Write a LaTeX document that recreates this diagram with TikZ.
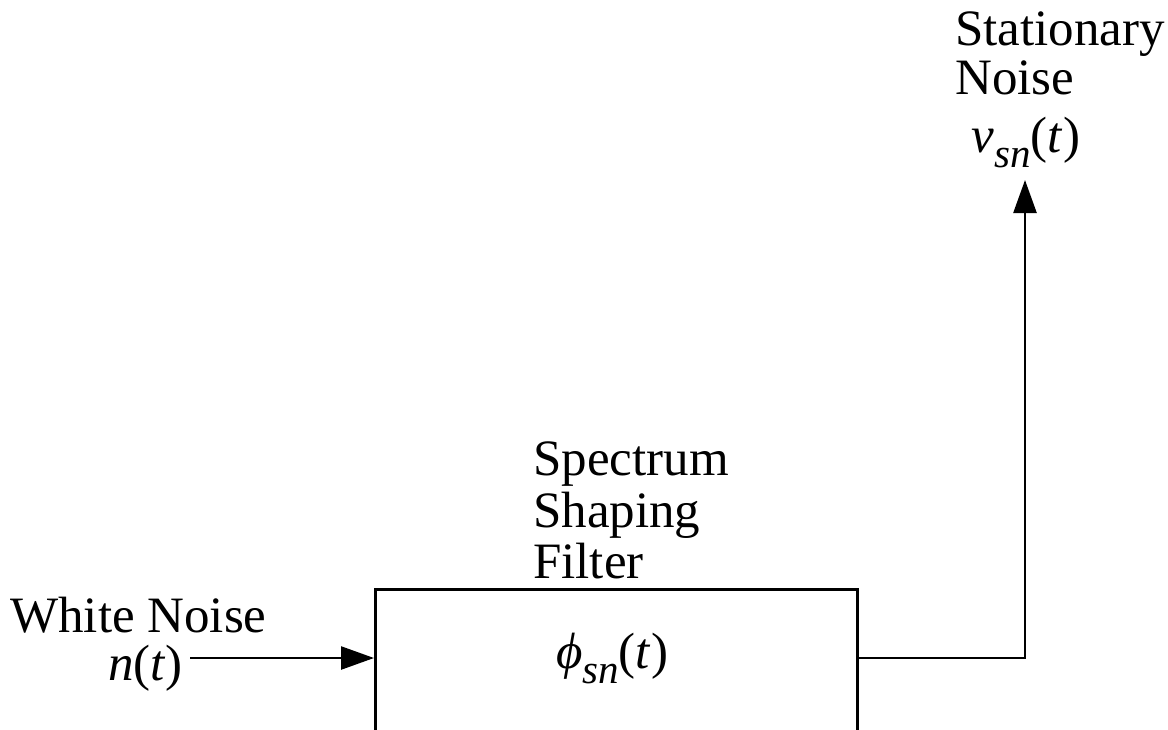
\documentclass[tikz,border=0pt]{standalone}
\usepackage{fontspec}
\setmainfont{LiberationSerif}[Extension=.ttf,UprightFont=*-Regular,ItalicFont=*-Italic,BoldFont=*-Bold]
\usetikzlibrary{arrows.meta}
\newcommand{\sbs}[1]{\raisebox{-0.3em}{\fontsize{41}{41}\selectfont\itshape #1}}
\begin{document}
\begin{tikzpicture}[x=1pt,y=-1pt,
  lbl/.style={inner sep=0pt,font=\fontsize{51}{51}\selectfont},
  wire/.style={line width=2.5pt},
  arr/.style={wire,-{Triangle[length=33pt,width=23pt]}},
  blk/.style={draw,line width=2.5pt,minimum width=482pt,minimum height=220pt,inner sep=0pt}]
\clip (0,0) rectangle (1168,729);
\node[blk,anchor=north west] (box) at (374,588) {};
\node[lbl,anchor=base] (phi) at (612,668) {\textit{ϕ}\sbs{sn}(\textit{t})};
\node[lbl,anchor=base west] (wn) at (10,632) {White Noise};
\node[lbl,anchor=base east] (nt) at (183,680) {\textit{n}(\textit{t})};
\node[lbl,anchor=base west] (sp1) at (533,475) {Spectrum};
\node[lbl,anchor=base west] (sp2) at (533,527) {Shaping};
\node[lbl,anchor=base west] (sp3) at (533,578) {Filter};
\node[lbl,anchor=base west] (st1) at (955,45) {Stationary};
\node[lbl,anchor=base west] (st2) at (955,94) {Noise};
\node[lbl,anchor=base] (vsn) at (1026,152) {\textit{v}\sbs{sn}(\textit{t})};
\coordinate (in) at (190,658);
\coordinate (corner) at (1025,658);
\coordinate (out) at (1025,180);
\draw[arr] (in) -- (in -| box.west);
\draw[arr] (box.east |- corner) -- (corner) -- (out);
\end{tikzpicture}
\end{document}
